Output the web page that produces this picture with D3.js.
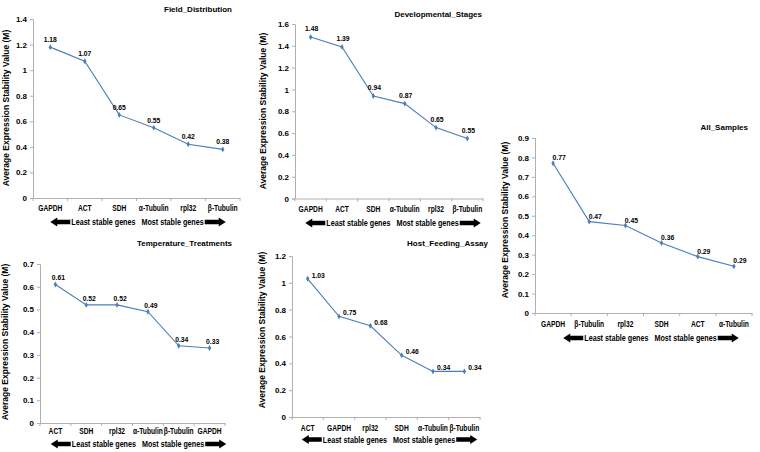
<!DOCTYPE html>
<html>
<head>
<meta charset="utf-8">
<script src="https://cdn.jsdelivr.net/npm/d3@7"></script>
<style>
  body { margin: 0; background: #fff; }
  svg text { font-family: "Liberation Sans", Arial, sans-serif; font-weight: bold; fill: #000; }
</style>
</head>
<body>
<div id="chart"></div>
<script>
// Data
const fieldGenes = ['GAPDH', 'ACT', 'SDH', 'α-Tubulin', 'rpl32', 'β-Tubulin'];
const fieldValues = [1.18, 1.07, 0.65, 0.55, 0.42, 0.38];
const fieldLabels = ['1.18', '1.07', '0.65', '0.55', '0.42', '0.38'];

const devGenes = ['GAPDH', 'ACT', 'SDH', 'α-Tubulin', 'rpl32', 'β-Tubulin'];
const devValues = [1.48, 1.39, 0.94, 0.87, 0.65, 0.55];
const devLabels = ['1.48', '1.39', '0.94', '0.87', '0.65', '0.55'];

const allGenes = ['GAPDH', 'β-Tubulin', 'rpl32', 'SDH', 'ACT', 'α-Tubulin'];
const allValues = [0.77, 0.47, 0.45, 0.36, 0.29, 0.24];
const allLabels = ['0.77', '0.47', '0.45', '0.36', '0.29', '0.29'];

const tempGenes = ['ACT', 'SDH', 'rpl32', 'α-Tubulin', 'β-Tubulin', 'GAPDH'];
const tempValues = [0.61, 0.52, 0.52, 0.49, 0.34, 0.33];
const tempLabels = ['0.61', '0.52', '0.52', '0.49', '0.34', '0.33'];

const hostGenes = ['ACT', 'GAPDH', 'rpl32', 'SDH', 'α-Tubulin', 'β-Tubulin'];
const hostValues = [1.03, 0.75, 0.68, 0.46, 0.34, 0.34];
const hostLabels = ['1.03', '0.75', '0.68', '0.46', '0.34', '0.34'];

const fieldTicks = [0, 0.2, 0.4, 0.6, 0.8, 1, 1.2, 1.4];
const devTicks = [0, 0.2, 0.4, 0.6, 0.8, 1, 1.2, 1.4, 1.6];
const allTicks = [0, 0.1, 0.2, 0.3, 0.4, 0.5, 0.6, 0.7, 0.8, 0.9];
const tempTicks = [0, 0.1, 0.2, 0.3, 0.4, 0.5, 0.6, 0.7];
const hostTicks = [0, 0.2, 0.4, 0.6, 0.8, 1, 1.2];

const yTitle = 'Average Expression Stability Value (M)';
const leastText = 'Least stable genes';
const mostText = 'Most stable genes';

// Panel layout
const panels = [
    { title: 'Field_Distribution', genes: fieldGenes, values: fieldValues, labels: fieldLabels, ticks: fieldTicks,
      x0: 33, x1: 240, y0: 198, y1: 19, titleX: 232, titleY: 9, ylabX: 6, ylabY: 108,
      catY: 208, arrowY: 222, gapX: 138.5, lab: { dx: 0, dy: -5, anchor: 'middle' } },
    { title: 'Developmental_Stages', genes: devGenes, values: devValues, labels: devLabels, ticks: devTicks,
      x0: 295, x1: 483, y0: 198.5, y1: 24, titleX: 482, titleY: 14, ylabX: 263, ylabY: 111,
      catY: 209, arrowY: 223, gapX: 393.5, lab: { dx: 1, dy: -6, anchor: 'middle' } },
    { title: 'All_Samples', genes: allGenes, values: allValues, labels: allLabels, ticks: allTicks,
      x0: 535, x1: 752, y0: 313, y1: 138, titleX: 748, titleY: 127, ylabX: 505, ylabY: 220,
      catY: 324, arrowY: 338, gapX: 651.5, lab: { dx: 6, dy: -3, anchor: 'middle' } },
    { title: 'Temperature_Treatments', genes: tempGenes, values: tempValues, labels: tempLabels, ticks: tempTicks,
      x0: 40, x1: 225, y0: 423, y1: 264, titleX: 232, titleY: 243, ylabX: 5, ylabY: 342,
      catY: 431, arrowY: 444, gapX: 139, lab: { dx: 3, dy: -4, anchor: 'middle' } },
    { title: 'Host_Feeding_Assay', genes: hostGenes, values: hostValues, labels: hostLabels, ticks: hostTicks,
      x0: 292, x1: 480, y0: 417, y1: 256, titleX: 488, titleY: 243, ylabX: 262, ylabY: 330,
      catY: 428, arrowY: 439.5, gapX: 390, lab: { dx: 4, dy: -1, anchor: 'start' } }
];

const lineColor = '#4a7ebb';
const axisColor = '#b0b0b0';
const squeeze = 0.76;      // the source text is set in a narrow face
const rowSqueeze = 0.8;

const svg = d3.select('#chart')
    .append('svg')
    .attr('width', 760)
    .attr('height', 452);

function arrowPath(xTip, xTail, y) {
    // block arrow, tip at xTip
    const dir = xTail > xTip ? 1 : -1;
    const head = 7 * dir;
    const bh = 2.3, hh = 4.6;
    return `M${xTip},${y} L${xTip + head},${y - hh} L${xTip + head},${y - bh} L${xTail},${y - bh} ` +
           `L${xTail},${y + bh} L${xTip + head},${y + bh} L${xTip + head},${y + hh} Z`;
}

panels.forEach(p => {
    const g = svg.append('g');
    const maxTick = p.ticks[p.ticks.length - 1];

    const x = d3.scaleBand().domain(p.genes).range([p.x0, p.x1]);
    const y = d3.scaleLinear().domain([0, maxTick]).range([p.y0, p.y1]);
    const cx = d => x(d) + x.bandwidth() / 2;

    // y axis
    const yAxis = g.append('g')
        .attr('transform', `translate(${p.x0},0)`)
        .call(d3.axisLeft(y).tickValues(p.ticks).tickSize(3).tickPadding(3).tickFormat(d3.format('~g')));
    yAxis.select('.domain').attr('stroke', axisColor);
    yAxis.selectAll('.tick line').attr('stroke', axisColor);
    yAxis.selectAll('.tick text').attr('font-size', 8).attr('font-family', null);

    // x axis with ticks at band boundaries
    const xAxis = g.append('g')
        .attr('transform', `translate(0,${p.y0})`)
        .call(d3.axisBottom(x).tickSize(0).tickPadding(0));
    xAxis.select('.domain').attr('stroke', axisColor);
    xAxis.selectAll('.tick text').remove();
    g.selectAll('.bandtick')
        .data(p.genes)
        .join('line')
        .attr('class', 'bandtick')
        .attr('x1', d => x(d)).attr('x2', d => x(d))
        .attr('y1', p.y0).attr('y2', p.y0 + 3)
        .attr('stroke', axisColor);
    g.append('line')
        .attr('x1', p.x1).attr('x2', p.x1)
        .attr('y1', p.y0).attr('y2', p.y0 + 3)
        .attr('stroke', axisColor);

    // category labels
    g.selectAll('.cat')
        .data(p.genes)
        .join('text')
        .attr('class', 'cat')
        .attr('transform', d => `translate(${cx(d)},${p.catY}) scale(${squeeze},1)`)
        .attr('dy', '0.35em')
        .attr('text-anchor', 'middle')
        .attr('font-size', 8.8)
        .text(d => d);

    // line
    const pts = p.genes.map((gname, i) => ({ gene: gname, v: p.values[i], label: p.labels[i] }));
    const line = d3.line()
        .x(d => cx(d.gene))
        .y(d => y(d.v));
    g.append('path')
        .datum(pts)
        .attr('d', line)
        .attr('fill', 'none')
        .attr('stroke', lineColor)
        .attr('stroke-width', 1.1);

    g.selectAll('.mark')
        .data(pts)
        .join('path')
        .attr('class', 'mark')
        .attr('transform', d => `translate(${cx(d.gene)},${y(d.v)})`)
        .attr('d', d3.symbol().type(d3.symbolDiamond).size(10))
        .attr('fill', lineColor);

    // data labels
    g.selectAll('.val')
        .data(pts)
        .join('text')
        .attr('class', 'val')
        .attr('transform', d => `translate(${cx(d.gene) + p.lab.dx},${y(d.v) + p.lab.dy}) scale(0.85,1)`)
        .attr('text-anchor', p.lab.anchor)
        .attr('font-size', 8)
        .text(d => d.label);

    // title
    g.append('text')
        .attr('x', p.titleX)
        .attr('y', p.titleY)
        .attr('dy', '0.35em')
        .attr('text-anchor', 'end')
        .attr('font-size', 8)
        .text(p.title);

    // y title
    g.append('text')
        .attr('transform', `translate(${p.ylabX},${p.ylabY}) rotate(-90)`)
        .attr('dy', '0.35em')
        .attr('text-anchor', 'middle')
        .attr('font-size', 8.5)
        .text(yTitle);

    // arrow row
    const least = g.append('text')
        .attr('transform', `translate(${p.gapX - 3},${p.arrowY}) scale(${rowSqueeze},1)`)
        .attr('dy', '0.35em')
        .attr('text-anchor', 'end')
        .attr('font-size', 9)
        .text(leastText);
    const most = g.append('text')
        .attr('transform', `translate(${p.gapX + 3},${p.arrowY}) scale(${rowSqueeze},1)`)
        .attr('dy', '0.35em')
        .attr('text-anchor', 'start')
        .attr('font-size', 9)
        .text(mostText);
    const leftEnd = p.gapX - 3 - least.node().getComputedTextLength() * rowSqueeze - 1;
    const rightStart = p.gapX + 3 + most.node().getComputedTextLength() * rowSqueeze + 1;
    g.append('path')
        .attr('d', arrowPath(leftEnd - 20, leftEnd, p.arrowY))
        .attr('fill', '#000');
    g.append('path')
        .attr('d', arrowPath(rightStart + 21, rightStart, p.arrowY))
        .attr('fill', '#000');
});
</script>
</body>
</html>
